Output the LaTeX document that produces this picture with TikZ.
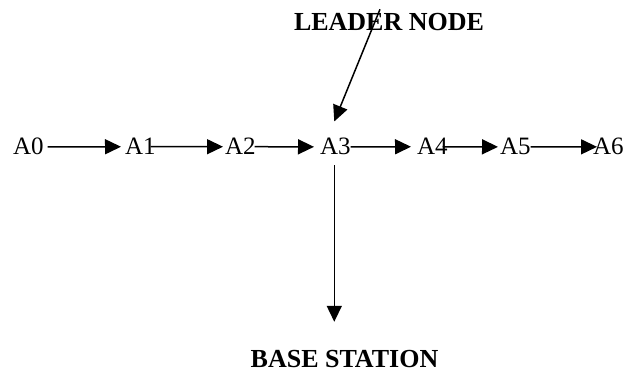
\documentclass[tikz,border=0pt]{standalone}
\usepackage{fontspec}
\setmainfont{Liberation Serif}
\usetikzlibrary{arrows.meta,calc}
\begin{document}
\begin{tikzpicture}[x=1pt,y=-1pt,
  lbl/.style={inner sep=0pt, outer sep=0pt, font=\fontsize{25}{30}\selectfont, anchor=base west},
  blbl/.style={inner sep=0pt, outer sep=0pt, font=\fontsize{26}{31}\selectfont\bfseries, anchor=base},
  arr/.style={line width=1.5pt, -{Triangle[length=16pt,width=15pt]}}]
\useasboundingbox[fill=white] (0,0) rectangle (631,371);
\node[lbl] (A0) at (13,155) {A0};
\node[lbl] (A1) at (125,155) {A1};
\node[lbl] (A2) at (225,155) {A2};
\node[lbl] (A3) at (320,155) {A3};
\node[lbl] (A4) at (417,155) {A4};
\node[lbl] (A5) at (500,155) {A5};
\node[lbl] (A6) at (593,155) {A6};
\node[blbl] (LN) at (389,31) {LEADER NODE};
\node[blbl] (BS) at (344.5,367) {BASE STATION};
\draw[arr] ([xshift=4pt]A0.east) -- ([xshift=-4pt]A1.west);
\draw[arr] ([xshift=-5pt]A1.east) -- ([xshift=-2pt]A2.west);
\draw[arr] ([xshift=-1pt]A2.east) -- ([xshift=-6pt]A3.west);
\draw[arr] (A3.east) -- ([xshift=-6pt]A4.west);
\draw[arr] ([xshift=-5pt]A4.east) -- ([xshift=-2pt]A5.west);
\draw[arr] (A5.east) -- ([xshift=4pt]A6.west);
\draw[arr] ($(A3.south)+(-1,10)$) -- ($(A3.south |- BS.north)+(-1,-28)$);
\draw[arr] ($(LN.north)+(-9,-4.5)$) -- ($(A3.north)+(-1,-17)$);
\end{tikzpicture}
\end{document}
